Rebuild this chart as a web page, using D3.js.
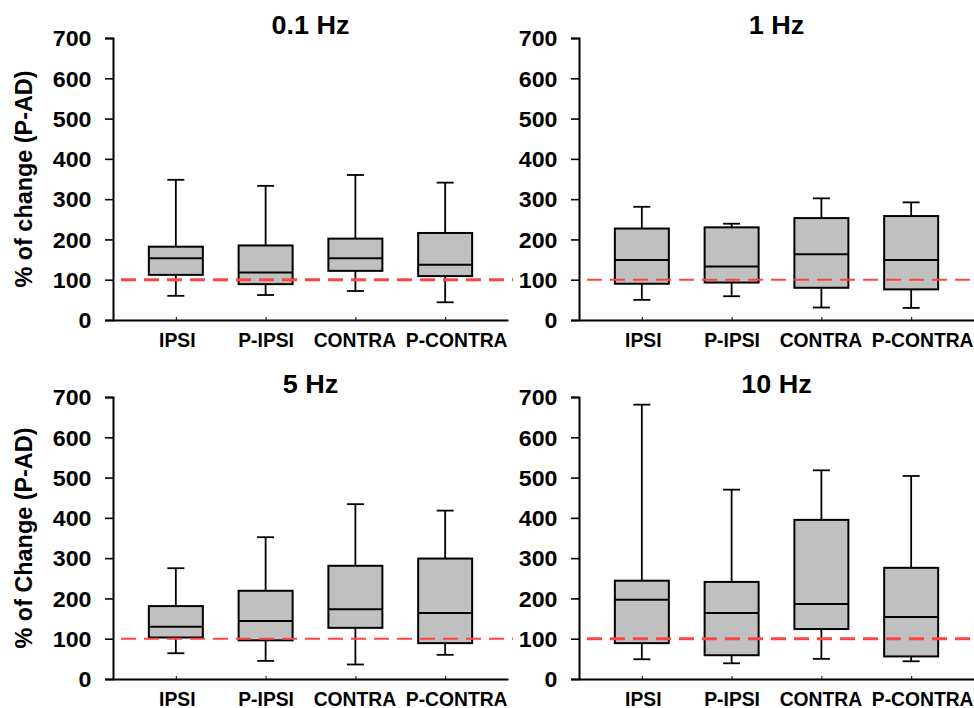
<!DOCTYPE html>
<html><head><meta charset="utf-8">
<script src="https://cdn.jsdelivr.net/npm/d3@7"></script>
<style>
body{margin:0;background:#fff}
svg text{font-family:"Liberation Sans",Arial,Helvetica,sans-serif;font-weight:bold;fill:#000}
</style>
</head><body>
<svg id="chart" width="974" height="708"></svg>
<script>
// ---- data ----
const categories = ["IPSI", "P-IPSI", "CONTRA", "P-CONTRA"];
const panelTitles = ["0.1 Hz", "1 Hz", "5 Hz", "10 Hz"];
const yAxisTitles = ["% of change (P-AD)", "", "% of Change (P-AD)", ""];
const yTickValues = [0, 100, 200, 300, 400, 500, 600, 700];
const referenceValue = 100;

// 0.1 Hz
const hz01Min = [60, 62, 72, 44];
const hz01Q1 = [112, 89, 122, 109];
const hz01Median = [153, 118, 153, 137];
const hz01Q3 = [182, 185, 202, 216];
const hz01Max = [348, 333, 360, 341];
// 1 Hz
const hz1Min = [50, 59, 31, 30];
const hz1Q1 = [90, 93, 80, 76];
const hz1Median = [149, 133, 163, 149];
const hz1Q3 = [227, 230, 253, 258];
const hz1Max = [281, 239, 302, 292];
// 5 Hz
const hz5Min = [64, 45, 36, 60];
const hz5Q1 = [103, 96, 127, 89];
const hz5Median = [130, 144, 173, 164];
const hz5Q3 = [181, 219, 281, 299];
const hz5Max = [275, 352, 434, 418];
// 10 Hz
const hz10Min = [49, 39, 50, 44];
const hz10Q1 = [89, 59, 124, 56];
const hz10Median = [197, 164, 186, 154];
const hz10Q3 = [244, 241, 395, 276];
const hz10Max = [681, 470, 518, 504];

const panelData = [
  [hz01Min, hz01Q1, hz01Median, hz01Q3, hz01Max],
  [hz1Min, hz1Q1, hz1Median, hz1Q3, hz1Max],
  [hz5Min, hz5Q1, hz5Median, hz5Q3, hz5Max],
  [hz10Min, hz10Q1, hz10Median, hz10Q3, hz10Max]
];

// ---- layout ----
const svg = d3.select("#chart");
const panelLeft = [113, 579, 113, 579];
const panelBottom = [320, 320, 679, 679];
const plotW = 395, plotH = 282;
const refStroke = [3, 2, 2, 3];
const boxW = 54, capW = 17;
const labelShift = [1, 0, -1, 11]; // horizontal nudge of category labels to avoid overlap

panelData.forEach((stats, p) => {
  const [mins, q1s, meds, q3s, maxs] = stats;
  const x0 = panelLeft[p], yb = panelBottom[p];
  const g = svg.append("g");

  const x = d3.scalePoint().domain(categories).range([x0, x0 + plotW]).padding(0.7);
  const y = d3.scaleLinear().domain([0, 700]).range([yb, yb - plotH]);

  // y axis
  const ya = g.append("g").attr("transform", `translate(${x0},0)`)
    .call(d3.axisLeft(y).tickValues(yTickValues).tickSize(8).tickPadding(15).tickFormat(d3.format("d")));
  ya.select(".domain").attr("stroke", "#000").attr("stroke-width", 2);
  ya.selectAll(".tick line").attr("stroke", "#000").attr("stroke-width", 1.6);
  ya.selectAll(".tick text")
    .attr("font-size", 21.5)
    .attr("x", -21.5 / 1.08)
    .attr("transform", "scale(1.08,1)")
    .attr("dy", "0.36em");

  // x axis
  const xa = g.append("g").attr("transform", `translate(0,${yb})`)
    .call(d3.axisBottom(x).tickSize(-3).tickPadding(16).tickSizeOuter(0));
  xa.select(".domain").attr("stroke", "#000").attr("stroke-width", 2);
  xa.selectAll(".tick line").attr("stroke", "#000").attr("stroke-width", 1);
  xa.selectAll(".tick text")
    .attr("font-size", 19.3)
    .attr("y", 26.5).attr("dy", 0)
    .attr("x", (d, i) => labelShift[i]);

  // whiskers
  const boxes = g.append("g").selectAll("g").data(categories).join("g");
  boxes.append("line")
    .attr("x1", d => x(d)).attr("x2", d => x(d))
    .attr("y1", (d, i) => y(maxs[i])).attr("y2", (d, i) => y(q3s[i]))
    .attr("stroke", "#000").attr("stroke-width", 1.8);
  boxes.append("line")
    .attr("x1", d => x(d)).attr("x2", d => x(d))
    .attr("y1", (d, i) => y(q1s[i])).attr("y2", (d, i) => y(mins[i]))
    .attr("stroke", "#000").attr("stroke-width", 1.8);
  boxes.append("line")
    .attr("x1", d => x(d) - capW / 2).attr("x2", d => x(d) + capW / 2)
    .attr("y1", (d, i) => y(maxs[i])).attr("y2", (d, i) => y(maxs[i]))
    .attr("stroke", "#000").attr("stroke-width", 1.8);
  boxes.append("line")
    .attr("x1", d => x(d) - capW / 2).attr("x2", d => x(d) + capW / 2)
    .attr("y1", (d, i) => y(mins[i])).attr("y2", (d, i) => y(mins[i]))
    .attr("stroke", "#000").attr("stroke-width", 1.8);
  boxes.append("rect")
    .attr("x", d => x(d) - boxW / 2).attr("width", boxW)
    .attr("y", (d, i) => y(q3s[i])).attr("height", (d, i) => y(q1s[i]) - y(q3s[i]))
    .attr("fill", "#c0c0c0").attr("stroke", "#000").attr("stroke-width", 2);
  boxes.append("line")
    .attr("x1", d => x(d) - boxW / 2).attr("x2", d => x(d) + boxW / 2)
    .attr("y1", (d, i) => y(meds[i])).attr("y2", (d, i) => y(meds[i]))
    .attr("stroke", "#000").attr("stroke-width", 2);

  // reference line
  g.append("line")
    .attr("x1", x0 + 8).attr("x2", x0 + plotW + 5)
    .attr("y1", y(referenceValue)).attr("y2", y(referenceValue))
    .attr("stroke", "#ff4444").attr("stroke-width", refStroke[p])
    .attr("stroke-dasharray", "15,8");

  // title
  const cx = x0 + plotW / 2;
  g.append("text")
    .attr("transform", `translate(${cx},${yb - plotH - 4}) scale(1.04,1)`)
    .attr("text-anchor", "middle").attr("font-size", 26)
    .text(panelTitles[p]);

  // y title
  if (yAxisTitles[p]) {
    g.append("text")
      .attr("transform", `translate(32,${yb - plotH / 2}) rotate(-90)`)
      .attr("text-anchor", "middle").attr("font-size", 23.4)
      .text(yAxisTitles[p]);
  }
});
</script>
</body></html>
